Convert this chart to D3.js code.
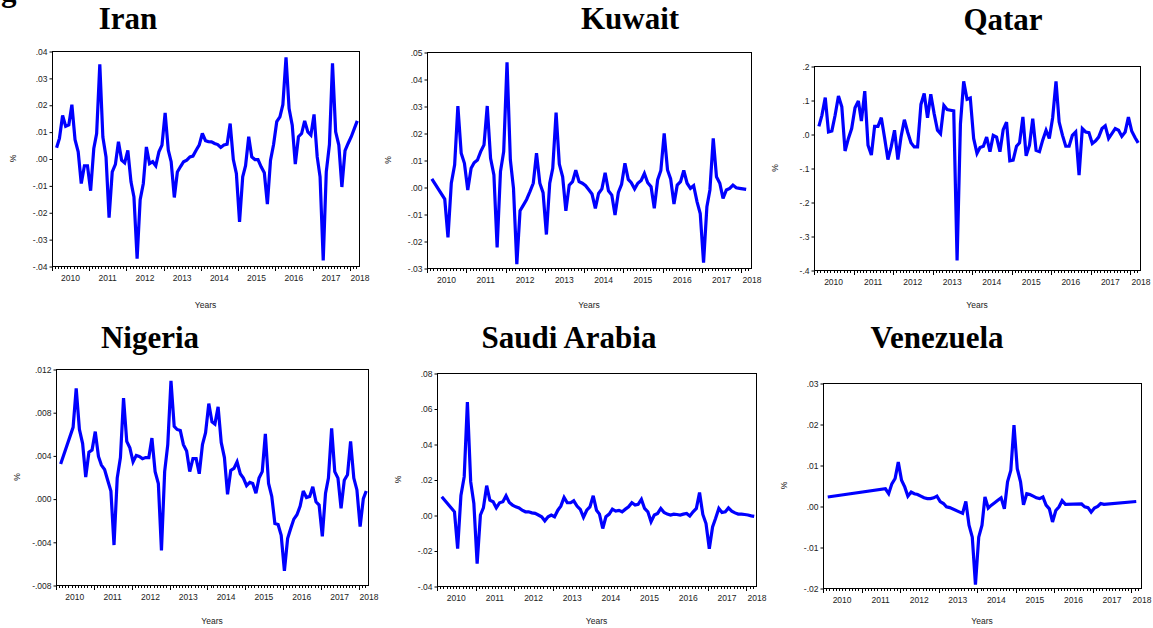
<!DOCTYPE html>
<html>
<head>
<meta charset="utf-8">
<script src="https://cdn.jsdelivr.net/npm/d3@7"></script>
<style>
html,body{margin:0;padding:0;background:#fff;}
svg{display:block;}
</style>
</head>
<body>
<svg id="chart" width="1153" height="628"></svg>
<script>
// ---------- DATA (monthly observations, first month = 2010-02; null = no vertex read) ----------
const countries = ["Iran", "Kuwait", "Qatar", "Nigeria", "Saudi Arabia", "Venezuela"];
const firstMonth = "2010-02";
const yearLabels = ["2010","2011","2012","2013","2014","2015","2016","2017","2018"];

const iranValues = [0.004,0.0075,0.016,0.012,0.0125,0.020,0.007,0.0025,-0.0093,-0.0027,-0.0027,-0.012,0.0037,0.0093,0.035,0.008,0.0006,-0.022,-0.005,-0.0022,0.0062,-0.0006,-0.0016,0.003,-0.0087,-0.0143,-0.0373,-0.0153,-0.0093,0.0043,-0.0019,-0.0012,-0.0027,0.0025,0.005,0.017,0.0031,-0.0012,-0.0145,-0.005,-0.003,-0.0012,-0.0006,0.0006,0.0009,0.0031,0.005,0.0093,0.0066,0.0063,0.0062,0.0056,0.0052,0.0041,0.005,0.0053,0.013,-0.0004,-0.0056,-0.0236,-0.0068,-0.0027,0.0081,0.0006,-0.0004,-0.0004,-0.0031,-0.0053,-0.017,-0.0006,0.0052,0.0137,0.0155,0.020,0.0376,0.0186,0.0124,-0.0021,0.0081,0.0093,0.014,0.0099,0.0087,0.0164,0.0006,-0.0068,-0.0379,-0.005,0.0052,0.0354,0.0099,0.005,-0.0106,0.0029,0.0056,0.0081,0.0112,0.014];

const kuwaitValues = [0.003,null,null,null,-0.0045,-0.0187,0.0014,0.0082,0.030,0.0125,0.0088,-0.0011,0.0069,0.009,0.010,0.0131,0.0156,0.030,0.0106,0.0045,-0.0224,0.0057,0.0131,0.0462,0.010,-0.0005,-0.0286,-0.0088,-0.0067,-0.0046,-0.0017,0.0014,0.0125,0.0014,-0.0021,-0.0176,0.0014,0.0069,0.0276,0.0085,0.0038,-0.0088,0.0007,0.002,0.0062,0.002,0.0014,0.0005,-0.0011,-0.0026,-0.0079,-0.0024,-0.0007,0.0053,-0.0014,-0.003,-0.0104,-0.002,0.001,0.0088,0.0028,0.0016,-0.0007,0.0014,0.0024,0.005,0.0016,0.0001,-0.0079,0.0026,0.0061,0.0199,0.0063,0.003,-0.0063,0.0007,0.002,0.0061,0.0014,-0.0005,0.0005,-0.0054,-0.0098,-0.028,-0.0073,-0.0011,0.018,0.0038,0.0014,-0.0042,-0.0011,-0.0005,0.0007,-0.0003,-0.0005,-0.0007,-0.0009];

const qatarValues = [0.0225,0.055,0.107,0.006,0.009,0.055,0.112,0.08,-0.05,-0.013,0.016,0.077,0.097,0.038,0.126,-0.033,-0.062,0.0225,0.0225,0.048,-0.011,-0.075,-0.038,0.011,-0.075,-0.009,0.042,0.006,-0.026,-0.038,-0.038,0.087,0.119,0.048,0.117,0.06,0.011,0.001,0.084,0.072,0.07,0.068,-0.372,0.03,0.155,0.102,0.106,-0.013,-0.057,-0.04,-0.036,-0.009,-0.052,-0.004,-0.009,-0.052,0.013,0.035,-0.079,-0.077,-0.036,-0.026,0.05,-0.064,-0.033,0.045,-0.048,-0.052,-0.018,0.011,-0.013,0.048,0.155,0.035,-0.004,-0.036,-0.036,-0.004,0.006,-0.121,0.016,0.006,0.004,-0.028,-0.02,-0.009,0.016,0.024,-0.013,0.001,0.016,0.011,-0.007,0.006,0.05,0.008,-0.011,-0.026];

const nigeriaValues = [0.0032,null,null,null,0.0066,0.0102,0.0064,0.0051,0.002,0.0043,0.0045,0.0062,0.0039,0.0031,0.0027,0.0017,0.0007,-0.0043,0.0019,0.0038,0.0093,0.0053,0.0047,0.0034,0.004,0.0039,0.0037,0.0038,0.0038,0.0056,0.0025,0.0014,-0.0048,0.0025,0.005,0.0109,0.0067,0.0064,0.0063,0.005,0.0044,0.0025,0.0037,0.0037,0.0023,0.005,0.0061,0.0088,0.0071,0.0069,0.0085,0.0052,0.0038,0.0004,0.0026,0.0028,0.0034,0.0023,0.0019,0.0012,0.0015,0.0014,0.0005,0.0019,0.0025,0.006,0.0014,0.0002,-0.0023,-0.0024,-0.0034,-0.0067,-0.0037,-0.0028,-0.0019,-0.0015,-0.0007,0.0007,0.0001,0.0002,0.0011,-0.0003,-0.0006,-0.0035,0.0005,0.0019,0.0065,0.0025,0.0019,-0.0009,0.0017,0.0022,0.0053,0.0019,0.0008,-0.0026,0.0,0.0007];

const saudiValues = [0.0103,null,null,null,0.0018,-0.019,0.011,0.0216,0.0636,0.0188,0.0065,-0.0274,0.0,0.004,0.0165,0.0084,0.0075,0.004,0.0069,0.0075,0.0108,0.0071,0.0056,0.0046,0.004,0.0027,0.0018,0.0018,0.0012,0.0009,0.0,-0.001,-0.0033,-0.001,0.0,-0.001,0.0027,0.005,0.0099,0.0069,0.0069,0.008,0.005,0.0031,-0.0013,0.0027,0.0046,0.0108,0.0027,0.0005,-0.0076,-0.001,0.0005,0.0033,0.0022,0.0026,0.0018,0.0033,0.0046,0.0069,0.0056,0.006,0.0088,0.0037,0.0018,-0.0038,0.0,0.0009,0.0037,0.0014,0.0005,0.0,0.0005,0.0003,0.0,0.0005,0.0009,-0.0006,0.0018,0.0037,0.0127,0.0003,-0.0048,-0.019,-0.0067,-0.002,0.0037,0.0014,0.0018,0.004,0.0022,0.0012,0.0005,0.0005,0.0003,0.0,-0.0005,-0.0008];

const venezuelaValues = [0.0022,null,null,null,null,null,null,null,null,null,null,null,null,null,null,null,null,null,0.0042,0.003,0.0054,0.0067,0.0107,0.0063,0.0046,0.0024,0.0034,0.003,0.0028,0.0024,0.002,0.0018,0.0018,0.002,0.0024,0.0011,0.0006,-0.0002,-0.0004,null,null,null,-0.0018,0.0011,-0.0047,-0.0076,-0.0192,-0.0076,-0.0047,0.0022,-0.0005,0.0002,0.0008,0.0014,0.002,-0.0007,0.0059,0.0087,0.0197,0.0091,0.0059,0.0003,0.003,0.0028,0.0024,0.002,0.0018,0.0022,0.0002,-0.0007,-0.0039,-0.0011,-0.0002,0.0013,0.0004,null,null,null,null,0.0005,-0.0002,-0.0004,-0.0015,-0.0005,-0.0001,0.0006,0.0004,null,null,null,null,null,null,null,null,null,0.0011];

const iranTicks = [-0.04,-0.03,-0.02,-0.01,0,0.01,0.02,0.03,0.04];
const kuwaitTicks = [-0.03,-0.02,-0.01,0,0.01,0.02,0.03,0.04,0.05];
const qatarTicks = [-0.4,-0.3,-0.2,-0.1,0,0.1,0.2];
const nigeriaTicks = [-0.008,-0.004,0,0.004,0.008,0.012];
const saudiTicks = [-0.04,-0.02,0,0.02,0.04,0.06,0.08];
const venezuelaTicks = [-0.02,-0.01,0,0.01,0.02,0.03];

const seriesValues = [iranValues, kuwaitValues, qatarValues, nigeriaValues, saudiValues, venezuelaValues];
const seriesTicks = [iranTicks, kuwaitTicks, qatarTicks, nigeriaTicks, saudiTicks, venezuelaTicks];
const tickDecimals = [2, 2, 1, 3, 2, 2];

// ---------- LAYOUT ----------
const frames = [
  {l:52,  r:359,  t:51,  b:266, tx:128, ty:29,  yy:308},
  {l:427, r:751,  t:52,  b:268, tx:630, ty:29,  yy:308},
  {l:814, r:1140, t:66,  b:270, tx:1003, ty:30, yy:308},
  {l:56,  r:368,  t:369, b:585, tx:150, ty:348, yy:624},
  {l:437, r:756,  t:373, b:586, tx:569, ty:348, yy:624},
  {l:823, r:1141, t:383, b:588, tx:937, ty:348, yy:624}
];

const svg = d3.select("#chart");
const parseMonth = d3.timeParse("%Y-%m");
const start = parseMonth(firstMonth);
const xStart = new Date(2010, 0, 1), xEnd = new Date(2018, 3, 1);

function fmt(v, dec) {
  if (Math.abs(v) < 1e-12) v = 0;
  let s = Math.abs(v).toFixed(dec).replace(/^0/, "");
  return (v < 0 ? "-" : "") + s;
}

// partial caption fragment at top-left (cut off in the source image)
svg.append("text").attr("x", 1).attr("y", 1)
  .attr("font-family", "Liberation Serif, Times New Roman, serif")
  .attr("font-weight", "bold").attr("font-size", 31).text("g");

countries.forEach((name, k) => {
  const f = frames[k];
  const vals = seriesValues[k];
  const ticks = seriesTicks[k];
  const g = svg.append("g");

  const x = d3.scaleTime().domain([xStart, xEnd]).range([f.l, f.r]);
  const y = d3.scaleLinear().domain(d3.extent(ticks)).range([f.b, f.t]);

  // title
  g.append("text").attr("x", f.tx).attr("y", f.ty).attr("text-anchor", "middle")
    .attr("font-family", "Liberation Serif, Times New Roman, serif")
    .attr("font-weight", "bold").attr("font-size", 31).attr("fill", "#000").text(name);

  // data points (mid-month)
  const pts = vals.map((v, i) => ({date: d3.timeDay.offset(d3.timeMonth.offset(start, i), 14), v}))
                  .filter(d => d.v !== null);

  // line
  g.append("path").datum(pts)
    .attr("fill", "none").attr("stroke", "#0000ff").attr("stroke-width", 3.2)
    .attr("stroke-linejoin", "miter").attr("stroke-miterlimit", 3)
    .attr("d", d3.line().x(d => x(d.date)).y(d => y(d.v)));

  // frame
  g.append("rect").attr("x", f.l + 0.5).attr("y", f.t + 0.5)
    .attr("width", f.r - f.l).attr("height", f.b - f.t)
    .attr("fill", "none").attr("stroke", "#000").attr("stroke-width", 1);

  // y axis
  const yAxis = d3.axisLeft(y).tickValues(ticks).tickSize(3).tickPadding(2)
    .tickFormat(v => fmt(v, tickDecimals[k]));
  const ya = g.append("g").attr("transform", `translate(${f.l + 0.5},0.5)`).call(yAxis);
  ya.select(".domain").remove();
  ya.selectAll("text").attr("font-family", "Liberation Sans, Arial, sans-serif")
    .attr("font-size", 8.5).attr("fill", "#222");
  ya.selectAll("line").attr("stroke", "#000");

  // x axis minor (monthly) & major (yearly) ticks
  const months = d3.timeMonth.range(xStart, xEnd);
  g.append("g").selectAll("line").data(months).join("line")
    .attr("x1", d => Math.round(x(d)) + 0.5).attr("x2", d => Math.round(x(d)) + 0.5)
    .attr("y1", f.b + 1).attr("y2", d => f.b + (d.getMonth() === 0 ? 5 : 3))
    .attr("stroke", "#000").attr("stroke-width", 1);

  // year labels, centered on each year
  g.append("g").selectAll("text").data(yearLabels).join("text")
    .attr("x", d => Math.min(x(new Date(+d, 6, 1)), f.r + 1))
    .attr("y", f.b + 15)
    .attr("text-anchor", "middle")
    .attr("font-family", "Liberation Sans, Arial, sans-serif")
    .attr("font-size", 8.5).attr("fill", "#222").text(d => d);

  // axis titles
  g.append("text").attr("x", (f.l + f.r) / 2).attr("y", f.yy)
    .attr("text-anchor", "middle").attr("font-family", "Liberation Sans, Arial, sans-serif")
    .attr("font-size", 8.5).attr("fill", "#222").text("Years");
  g.append("text")
    .attr("transform", `translate(${f.l - 36},${(f.t + f.b) / 2}) rotate(-90)`)
    .attr("text-anchor", "middle").attr("font-family", "Liberation Sans, Arial, sans-serif")
    .attr("font-size", 8.5).attr("fill", "#222").text("%");
});
</script>
</body>
</html>
